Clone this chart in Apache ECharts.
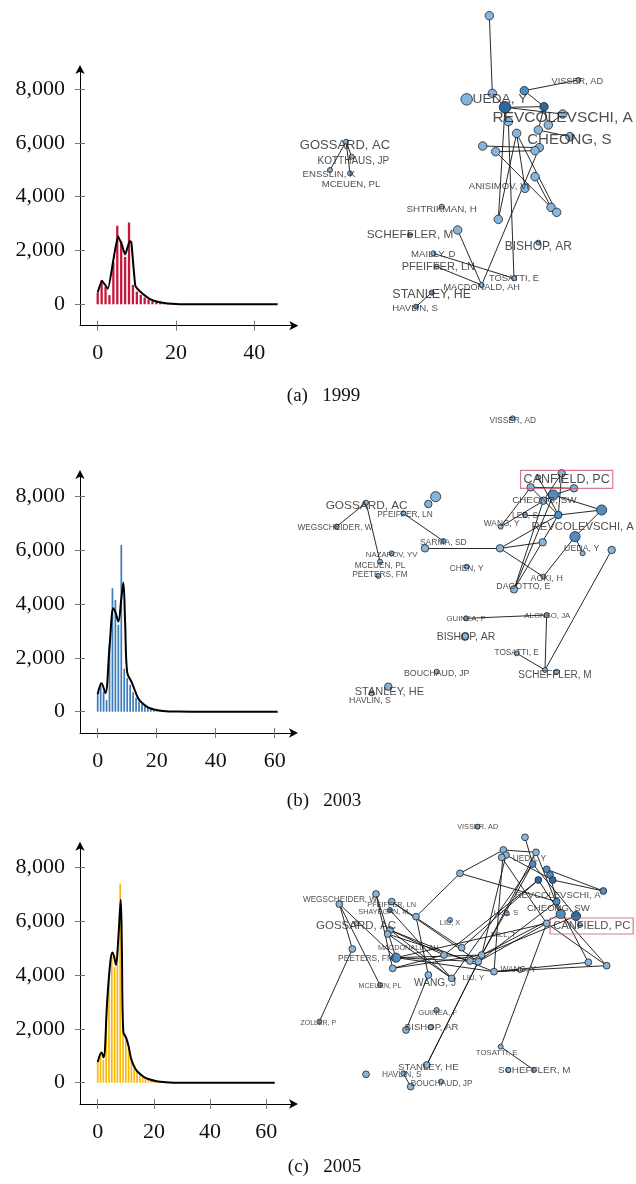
<!DOCTYPE html>
<html>
<head>
<meta charset="utf-8">
<script src="https://cdn.jsdelivr.net/npm/echarts@6/dist/echarts.min.js"></script>
<style>
html,body{margin:0;padding:0;background:#fff;}
#chart{width:636px;height:1184px;}
</style>
</head>
<body>
<div id="chart"></div>
<script>
// ---------------- Histogram data (number of authors per paper count) ----------------
const h1Bars = [440, 900, 650, 340, 1560, 2920, 2350, 1760, 3040, 720, 470, 350, 250, 180, 125, 90, 65, 45, 30, 20, 12, 8, 5, 3, 2];
const h1Line = [[0,450],[1.1,870],[2.6,580],[4,1650],[5.2,2530],[6.2,2200],[7,1850],[8.2,2350],[8.6,2300],[9.6,700],[10.5,520],[12,330],[13.5,180],[15,105],[17,50],[19,20],[21,6],[25,0],[46,0]];
const h2Bars = [680, 1080, 750, 430, 2500, 4590, 4150, 3230, 6200, 1600, 1250, 1000, 720, 520, 380, 280, 200, 150, 110, 85, 65, 48, 35, 25, 18, 13, 9, 6, 4, 3, 2];
const h2Line = [[0,660],[1.3,1060],[2.6,690],[4,2400],[5.3,3850],[6,3700],[7,3350],[8,4200],[8.7,4800],[9.3,3300],[10,1450],[11.5,1100],[13.7,500],[15,330],[16.6,190],[18,120],[20,60],[23,20],[27,5],[32,0],[61,0]];
const h3Bars = [780, 1150, 840, 2400, 3800, 4700, 4300, 4900, 7400, 1900, 1700, 1300, 900, 650, 480, 350, 260, 200, 150, 110, 80, 60, 45, 33, 25, 18, 13, 9, 7, 5, 4, 3, 2];
const h3Line = [[0,770],[1.4,1120],[2.1,940],[3.4,3080],[4.5,4500],[5.2,4840],[5.8,4700],[6.5,4380],[7.3,5300],[8.2,6800],[8.6,5000],[9.1,1900],[10.2,1650],[11,1350],[12,850],[13.5,500],[15,330],[16.5,210],[18,140],[21,55],[24,18],[27,0],[63,0]];
const yTicks = [0, 2000, 4000, 6000, 8000];
const xTicks1 = [0, 20, 40];
const xTicks23 = [0, 20, 40, 60];
const captions = ['(a)   1999', '(b)   2003', '(c)   2005'];

// ---------------- Network data: layout coords [x, y, degreeClass, shade] ----------------
const net1Nodes = [[598,47,2,0],[607,280,2,0],[530,298,3,0],[703,272,2,1],[645,322,3,2],[762,320,2,2],[818,342,2,0],[775,375,2,0],[745,390,2,0],[680,400,2,0],[655,365,2,0],[578,438,2,0],[617,455,2,0],[748,443,2,0],[735,452,2,0],[735,530,2,0],[705,565,2,0],[783,622,2,0],[800,637,2,0],[625,658,2,0],[503,690,2,0],[745,728,1,0],[168,425,1,0],[575,855,1,0],[672,835,1,0],[425,878,1,1],[378,920,1,1],[440,800,1,0],[430,760,1,0],[360,705,1,0],[455,620,1,0],[865,240,1,0],[120,510,1,0],[180,520,1,0],[185,470,1,0],[840,410,2,0]];
const net1Edges = [[0,1],[3,31],[3,5],[4,6],[4,5],[5,7],[5,8],[1,4],[7,6],[11,13],[12,14],[12,17],[9,18],[9,19],[15,17],[13,23],[10,24],[4,19],[20,23],[27,23],[28,24],[25,26],[22,32],[22,33],[22,34],[9,16],[8,35]];
const net1Labels = [["UEDA, Y",630,298,13.7],["REVCOLEVSCHI, A",818,353,15.5],["CHEONG, S",838,420,15],["GOSSARD, AC",165,437,13],["KOTTHAUS, JP",190,483,10],["ENSSLIN, K",117,523,9.6],["MCEUEN, PL",183,552,9.6],["VISSER, AD",862,244,9.2],["ANISIMOV, VI",627,560,9.6],["SHTRIKMAN, H",455,628,9.8],["SCHEFFLER, M",360,705,11.8],["BISHOP, AR",745,740,12],["MAILLY, D",430,763,9.6],["PFEIFFER, LN",445,800,11],["TOSATTI, E",672,835,9.4],["MACDONALD, AH",575,862,9.2],["STANLEY, HE",425,885,12.5],["HAVLIN, S",375,925,9.6]];

const net2Nodes = [[668,115,1,0],[815,280,2,0],[722,322,2,0],[852,325,2,0],[745,292,1,0],[790,345,3,1],[760,362,2,0],[805,405,2,1],[935,390,3,1],[855,470,3,1],[758,487,2,0],[630,505,2,0],[965,510,2,0],[672,628,2,0],[405,505,2,0],[460,483,1,0],[437,350,3,0],[415,372,2,0],[228,368,1,0],[140,440,1,0],[270,545,1,0],[265,588,1,0],[525,770,2,0],[528,715,1,0],[770,705,1,0],[765,870,1,0],[800,875,1,0],[440,875,1,0],[295,920,2,0],[245,940,1,0],[632,440,1,0],[705,405,1,0],[340,400,1,0],[760,590,1,0],[680,820,1,0],[878,520,1,0],[305,520,1,0],[530,560,1,0]];
const net2Edges = [[18,19],[18,20],[32,15],[14,11],[11,10],[11,7],[11,33],[13,5],[13,7],[2,3],[2,7],[4,7],[1,6],[3,5],[7,8],[5,8],[9,8],[9,35],[30,2],[30,5],[12,25],[23,24],[24,25],[34,25],[31,7],[33,9],[1,7],[13,6]];
const net2Labels = [["VISSER, AD",668,123,8.3],["CANFIELD, PC",830,298,12.5,1],["CHEONG, SW",763,362,9.8],["LEE, S",705,408,8.3],["WANG, Y",635,430,8.3],["REVCOLEVSCHI, A",878,440,11.3],["UEDA, Y",875,507,8.8],["GOSSARD, AC",230,378,11.8],["PFEIFFER, LN",345,403,8.3],["WEGSCHEIDER, W",135,442,8.3],["SARMA, SD",460,488,8.5],["NAZAROV, YV",305,525,7.8],["MCEUEN, PL",270,558,8.3],["PEETERS, FM",270,585,8.3],["CHEN, Y",530,565,8.3],["AOKI, H",770,597,8.8],["DAGOTTO, E",700,620,8.8],["GUINEA, F",528,717,7.8],["ALONSO, JA",772,707,7.8],["BISHOP, AR",528,772,10.5],["TOSATTI, E",680,817,8.3],["BOUCHAUD, JP",440,882,8.8],["SCHEFFLER, M",795,885,10],["STANLEY, HE",298,935,11],["HAVLIN, S",240,962,8.8]];

const net3Nodes = [[563,50,1,0],[705,82,2,0],[640,120,2,0],[648,135,2,0],[635,142,2,0],[738,127,2,0],[728,162,2,1],[770,178,2,1],[780,195,2,1],[745,210,2,2],[788,210,2,2],[510,190,2,0],[940,243,2,1],[800,275,2,1],[812,312,3,1],[858,318,3,2],[770,340,2,0],[575,435,2,0],[565,455,2,0],[540,453,2,0],[462,435,2,0],[515,413,2,0],[485,505,2,0],[415,495,2,0],[612,485,2,0],[895,457,2,0],[950,467,2,0],[378,320,2,0],[318,443,3,1],[308,475,2,0],[300,360,2,0],[293,372,2,0],[305,275,2,0],[258,252,2,0],[148,282,2,0],[200,340,1,0],[187,417,2,0],[480,330,1,0],[88,635,1,0],[348,660,2,0],[422,652,1,0],[440,600,1,0],[410,765,2,0],[228,793,2,0],[340,790,1,0],[362,830,2,0],[453,815,1,0],[655,780,1,0],[732,780,1,0],[632,710,1,0],[270,525,1,0],[690,480,1,0],[650,310,1,0],[870,345,1,0],[300,300,1,1]];
const net3Edges = [[1,6],[2,24],[3,17],[11,2],[11,13],[11,27],[34,36],[34,28],[34,50],[36,38],[33,28],[32,18],[30,22],[30,20],[32,21],[28,17],[28,24],[28,16],[29,20],[23,39],[42,17],[42,18],[45,44],[18,13],[18,16],[19,14],[17,6],[17,5],[24,25],[24,26],[26,14],[25,13],[12,10],[49,16],[49,48],[17,15],[5,14],[6,15],[3,10],[7,12],[28,18],[31,22],[31,19],[30,24],[29,17],[23,27],[54,22],[33,29],[20,9],[21,9],[22,6],[16,26],[14,9],[13,8],[4,16],[2,5],[51,24]];
const net3Labels = [["VISSER, AD",563,52,7.3],["UEDA, Y",718,145,8.3],["REVCOLEVSCHI, A",803,255,9.5],["CHEONG, SW",805,295,9.6],["CANFIELD, PC",905,348,11.2,1],["LEE, S",648,310,7.8],["LIU, X",480,338,7.3],["MILL, T",640,375,7.3],["WANG, Y",685,480,8.3],["LIU, Y",550,503,7.8],["WEGSCHEIDER, W",150,268,8.2],["PFEIFFER, LN",305,285,7.3],["SHAYEGAN, M",280,305,7.3],["GOSSARD, AC",198,346,11.5],["MACDONALD, AH",355,415,7.3],["PEETERS, FM",228,447,8.4],["MCEUEN, PL",270,527,7],["WANG, J",435,520,10.2],["ZOLLER, P",85,640,7],["GUINEA, F",443,608,7.8],["BISHOP, AR",425,652,9.6],["TOSATTI, E",620,730,7.8],["STANLEY, HE",415,772,9.6],["HAVLIN, S",335,793,8.3],["SCHEFFLER, M",733,782,9.9],["BOUCHAUD, JP",455,822,8.3]];

// ---------------- Build chart ----------------
const SERIF = '"Liberation Serif", "Times New Roman", serif';
const SANS = '"Liberation Sans", Arial, Helvetica, sans-serif';
const barColors = ['#c8173c', '#3b7bb8', '#f9b80a'];
const shades = ['#85b4dc', '#4f8cc4', '#2a6aa3'];

const histGrids = [
  {left: 80, top: 70, width: 213.3, height: 255.7},
  {left: 80, top: 475, width: 213, height: 258},
  {left: 80, top: 846.7, width: 213, height: 257.3}
];
const histX = [[-4.53, 50, xTicks1], [-6.0, 66.2, xTicks23], [-6.3, 69.5, xTicks23]];
const histY = [[-796, 8710], [-792, 8799], [-792, 8773]];
const netGrids = [
  {left: 290, top: 0, width: 346, height: 330, ymax: 990, scale: 1.0},
  {left: 290, top: 380, width: 346, height: 330, ymax: 990, scale: 0.88},
  {left: 290, top: 810, width: 346, height: 310, ymax: 930, scale: 0.8}
];

const grid = [], xAxis = [], yAxis = [], series = [];
const fmt = v => v.toLocaleString('en-US');

histGrids.forEach((g, i) => {
  grid.push({left: g.left, top: g.top, width: g.width, height: g.height, containLabel: false});
  xAxis.push({
    type: 'value', gridIndex: i, min: histX[i][0], max: histX[i][1],
    splitLine: {show: false},
    axisLine: {show: true, onZero: false, lineStyle: {color: '#000', width: 1}, symbol: ['none', 'arrow'], symbolSize: [7, 9], symbolOffset: [0, 5]},
    axisTick: {show: true, length: 5, customValues: histX[i][2], lineStyle: {color: '#777'}},
    axisLabel: {customValues: histX[i][2], fontFamily: SERIF, fontSize: 22, color: '#111', margin: 17}
  });
  yAxis.push({
    type: 'value', gridIndex: i, min: histY[i][0], max: histY[i][1],
    splitLine: {show: false},
    axisLine: {show: true, onZero: false, lineStyle: {color: '#000', width: 1}, symbol: ['none', 'arrow'], symbolSize: [7, 9], symbolOffset: [0, 5]},
    axisTick: {show: true, length: 5, customValues: yTicks, lineStyle: {color: '#777'}},
    axisLabel: {customValues: yTicks, fontFamily: SERIF, fontSize: 22, color: '#111', margin: 15, formatter: fmt}
  });
});

const barsAll = [h1Bars, h2Bars, h3Bars];
const linesAll = [h1Line, h2Line, h3Line];
const barW = [2.3, 1.7, 1.7];
barsAll.forEach((b, i) => {
  series.push({
    type: 'bar', xAxisIndex: i, yAxisIndex: i, barWidth: barW[i],
    data: b.map((v, k) => [k, v]),
    itemStyle: {color: barColors[i]}, silent: true, z: 2
  });
  series.push({
    type: 'line', xAxisIndex: i, yAxisIndex: i, data: linesAll[i],
    smooth: i === 0 ? 0.15 : 0.35, showSymbol: false, symbol: 'none',
    lineStyle: {color: '#000', width: 2}, silent: true, z: 3
  });
});

const nets = [[net1Nodes, net1Edges, net1Labels], [net2Nodes, net2Edges, net2Labels], [net3Nodes, net3Edges, net3Labels]];
const sizeBase = {1: 5, 2: 8.5, 3: 11.5};
nets.forEach((nt, j) => {
  const g = netGrids[j];
  const gi = 3 + j;
  grid.push({left: g.left, top: g.top, width: g.width, height: g.height});
  xAxis.push({type: 'value', gridIndex: gi, min: 0, max: 1038, show: false});
  yAxis.push({type: 'value', gridIndex: gi, min: 0, max: g.ymax, inverse: true, show: false});
  series.push({
    type: 'graph', coordinateSystem: 'cartesian2d', xAxisIndex: gi, yAxisIndex: gi,
    data: nt[0].map(n => ({
      value: [n[0], n[1]],
      symbolSize: (n[2] === 1 ? sizeBase[1] : sizeBase[n[2]] * g.scale),
      itemStyle: {color: shades[n[3]]}
    })),
    links: nt[1].map(e => ({source: e[0], target: e[1]})),
    lineStyle: {color: '#111', width: 0.9, opacity: 1, curveness: 0},
    itemStyle: {borderColor: '#222', borderWidth: 0.8},
    label: {show: false},
    silent: true, animation: false, z: 2
  });
  series.push({
    type: 'scatter', xAxisIndex: gi, yAxisIndex: gi, symbolSize: 1,
    itemStyle: {color: 'rgba(0,0,0,0)'},
    data: nt[2].map(l => {
      const lab = {fontSize: l[3]};
      if (l[4]) {
        lab.borderColor = '#cc5a74'; lab.borderWidth = 1.2; lab.padding = [3, 3, 2, 3];
      }
      return {name: l[0], value: [l[1], l[2]], label: lab};
    }),
    label: {show: true, position: 'inside', formatter: '{b}', color: '#222', fontFamily: SANS},
    silent: true, z: 5
  });
});

// extra tick-only axes so the hist ticks cross their axis lines
histGrids.forEach((g, i) => {
  xAxis.push({
    type: 'value', gridIndex: i, min: histX[i][0], max: histX[i][1], position: 'bottom',
    splitLine: {show: false}, axisLine: {show: false, onZero: false}, axisLabel: {show: false},
    axisTick: {show: true, inside: true, length: 5, customValues: histX[i][2], lineStyle: {color: '#777'}}
  });
  yAxis.push({
    type: 'value', gridIndex: i, min: histY[i][0], max: histY[i][1], position: 'left',
    splitLine: {show: false}, axisLine: {show: false, onZero: false}, axisLabel: {show: false},
    axisTick: {show: true, inside: true, length: 5, customValues: yTicks, lineStyle: {color: '#777'}}
  });
});

const captionPos = [[323.5, 396], [324, 801], [324.5, 1167]];
const graphic = captions.map((c, i) => ({
  type: 'text', x: captionPos[i][0], y: captionPos[i][1], silent: true,
  style: {text: c, fontFamily: SERIF, fontSize: 19, fill: '#111', textAlign: 'center', textVerticalAlign: 'middle'}
}));

const chart = echarts.init(document.getElementById('chart'), null, {renderer: 'canvas'});
chart.setOption({animation: false, backgroundColor: '#fff', graphic, grid, xAxis, yAxis, series});
</script>
</body>
</html>
